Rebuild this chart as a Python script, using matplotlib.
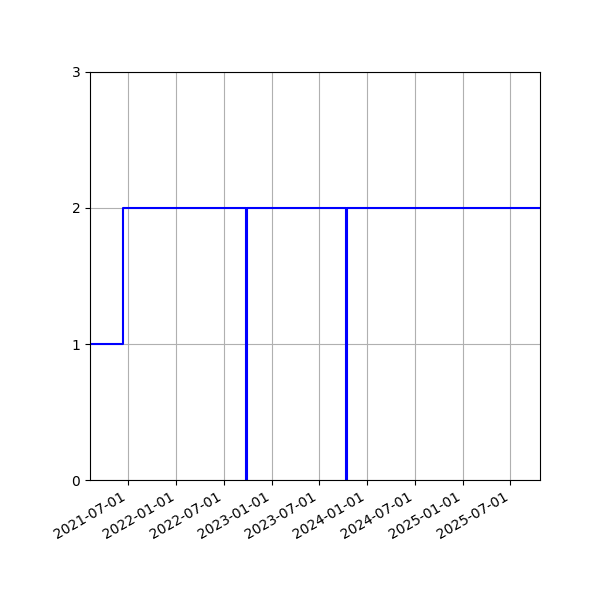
import matplotlib
matplotlib.use("Agg")
import matplotlib.pyplot as plt
import matplotlib.dates as mdates
import numpy as np
import datetime as dt

dates = ["2021-02-05", "2021-06-10", "2022-09-26", "2022-09-28",
         "2023-10-12", "2023-10-14", "2025-10-23"]
values = [1, 2, 0, 2, 0, 2, 2]

x = [dt.datetime.strptime(d, "%Y-%m-%d") for d in dates]

fig = plt.figure(figsize=(6, 6), dpi=100)
ax = fig.add_axes([0.15, 0.2, 0.75, 0.68])
ax.plot(x, values, drawstyle="steps-post", color="blue", linewidth=1.5)
ax.set_xlim(x[0], x[-1])
ax.set_ylim(0, 3)
ax.set_yticks([0, 1, 2, 3])
ax.xaxis.set_major_locator(mdates.MonthLocator(bymonth=(1, 7)))
ax.xaxis.set_major_formatter(mdates.DateFormatter("%Y-%m-%d"))
ax.grid(True)
for lbl in ax.get_xticklabels():
    lbl.set_rotation(30)
    lbl.set_ha("right")
fig.savefig("out.png", dpi=100)
